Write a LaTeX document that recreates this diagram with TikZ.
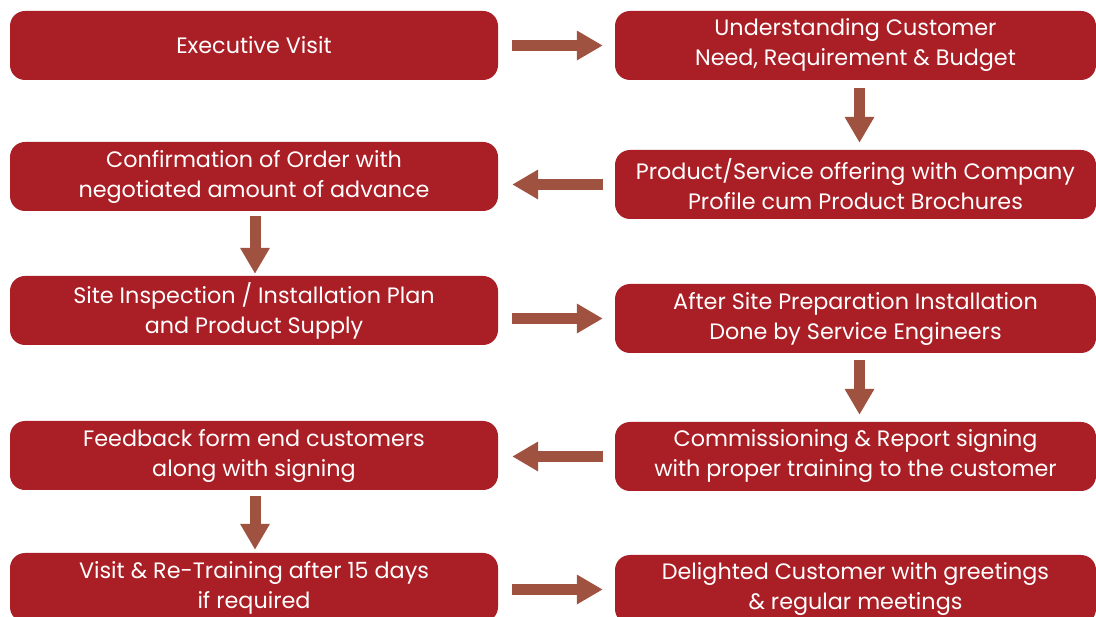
\documentclass[tikz,border=0pt]{standalone}
\usepackage{fontspec}
\setmainfont{Poppins}
\usetikzlibrary{arrows.meta}
\definecolor{boxred}{RGB}{170,30,37}
\definecolor{arrbrown}{RGB}{160,82,64}
\tikzset{
  box/.style={fill=boxred, rounded corners=15pt, draw=none, text=white,
    minimum height=69pt, align=center, inner sep=0pt,
    font=\fontsize{22.3}{30}\selectfont},
  lbox/.style={box, minimum width=488pt},
  rbox/.style={box, minimum width=481pt},
  arr/.style={draw=arrbrown, line width=11pt, -{Triangle[length=26pt,width=28pt]}, arrbrown},
}
\begin{document}
\begin{tikzpicture}[x=1pt,y=1pt]
\useasboundingbox (0,0) rectangle (1096,-617);
\clip (0,0) rectangle (1096,-617);
\node[lbox] (b1) at (254,-45.5) {Executive Visit};
\node[rbox] (b2) at (855.5,-45.5) {Understanding Customer\\Need, Requirement \& Budget};
\node[rbox] (b3) at (855.5,-184.5) {Product/Service offering with Company\\Profile cum Product Brochures};
\node[lbox] (b4) at (254,-176.5) {Confirmation of Order with\\negotiated amount of advance};
\node[lbox] (b5) at (254,-310.5) {Site Inspection / Installation Plan\\and Product Supply};
\node[rbox] (b6) at (855.5,-318.5) {After Site Preparation Installation\\Done by Service Engineers};
\node[rbox] (b7) at (855.5,-456.5) {Commissioning \& Report signing\\with proper training to the customer};
\node[lbox] (b8) at (254,-455.5) {Feedback form end customers\\along with signing};
\node[lbox] (b9) at (254,-587.5) {Visit \& Re-Training after 15 days\\if required};
\node[rbox] (b10) at (855.5,-589.5) {Delighted Customer with greetings\\\& regular meetings};
\draw[arr, shorten <=14pt, shorten >=12pt] (b1.east) -- (b2.west);
\draw[arr, shorten <=8pt, shorten >=7pt] ([xshift=4pt]b2.south) -- ([xshift=4pt]b3.north);
\draw[arr, shorten <=12pt, shorten >=14pt] (b3.west) -- (b3.west -| b4.east);
\draw[arr, shorten <=5pt, shorten >=2pt] ([xshift=1pt]b4.south) -- ([xshift=1pt]b5.north);
\draw[arr, shorten <=14pt, shorten >=12pt] (b5.east |- b6) -- (b6.west);
\draw[arr, shorten <=7pt, shorten >=7pt] ([xshift=4pt]b6.south) -- ([xshift=4pt]b7.north);
\draw[arr, shorten <=12pt, shorten >=14pt] (b7.west) -- (b7.west -| b8.east);
\draw[arr, shorten <=6pt, shorten >=3pt] ([xshift=1pt]b8.south) -- ([xshift=1pt]b9.north);
\draw[arr, shorten <=14pt, shorten >=12pt] (b9.east |- b10) -- (b10.west);
\end{tikzpicture}
\end{document}
